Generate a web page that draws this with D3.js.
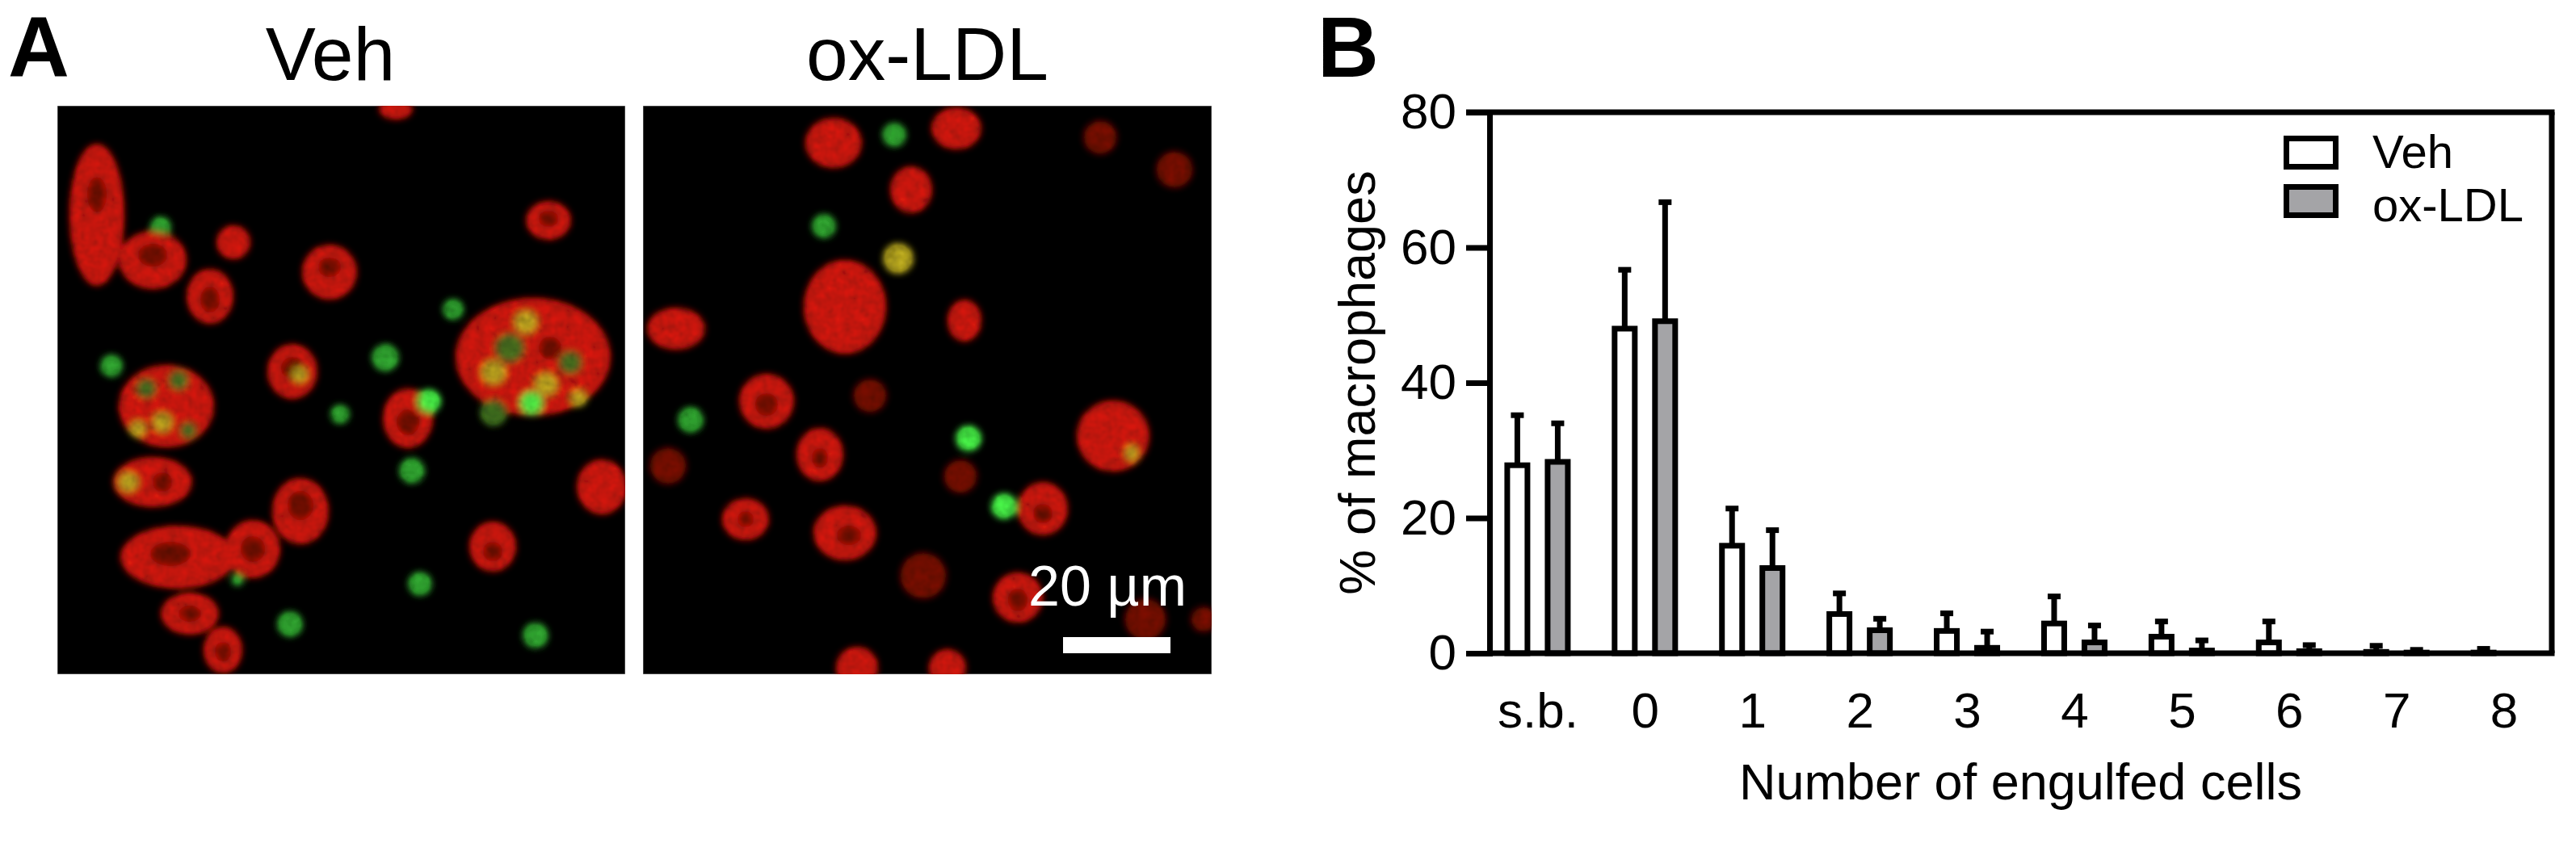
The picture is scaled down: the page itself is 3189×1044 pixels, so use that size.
<!DOCTYPE html>
<html>
<head>
<meta charset="utf-8">
<script src="https://cdn.jsdelivr.net/npm/d3@7"></script>
<style>
  html, body { margin: 0; padding: 0; background: #ffffff; }
  svg { display: block; }
  text { font-family: "Liberation Sans", Arial, Helvetica, sans-serif; }
</style>
</head>
<body>
<svg id="fig" width="3189" height="1044"></svg>
<script>
// ---------------- data ----------------
const categories = ["s.b.", "0", "1", "2", "3", "4", "5", "6", "7", "8"];
const seriesNames = ["Veh", "ox-LDL"];
const vehMean = [27.8, 48.0, 15.9, 5.8, 3.3, 4.4, 2.45, 1.6, 0.2, 0.1];
const vehSD   = [7.4, 8.7, 5.5, 3.05, 2.6, 4.0, 2.25, 3.1, 0.9, 0.55];
const oxMean  = [28.3, 49.1, 12.6, 3.4, 0.8, 1.6, 0.4, 0.3, 0.1, 0.0];
const oxSD    = [5.7, 17.6, 5.6, 1.7, 2.4, 2.5, 1.5, 0.9, 0.4, 0.0];
const yTicks  = [0, 20, 40, 60, 80];
const panelTitles = ["Veh", "ox-LDL"];

// decorative micrograph blobs (panel-relative), [cx, cy, rx, ry, kind]
const cellsVeh = [
  [49,135,33,87,'r'],[128,150,12,12,'g'],[118,191,41,35,'r'],[218,169,20,20,'r'],
  [189,236,28,33,'r'],[337,206,33,33,'r'],[608,142,27,23,'r'],[419,4,20,12,'r'],
  [490,252,12,12,'g'],[589,311,95,72,'r'],[67,322,13,13,'g'],[406,312,16,16,'g'],
  [291,329,30,33,'r'],[135,372,58,50,'r'],[350,382,11,11,'g'],[434,387,30,36,'r'],
  [674,472,30,33,'r'],[118,466,48,30,'r'],[439,452,15,15,'g'],[301,502,34,40,'r'],
  [149,559,70,38,'r'],[242,549,33,35,'r'],[539,546,28,30,'r'],[449,592,14,14,'g'],
  [164,629,35,25,'r'],[205,674,23,28,'r'],[288,642,15,15,'g'],[592,656,15,15,'g'],
  [223,587,7,7,'g'],
  [49,110,12,22,'n'],[118,185,18,14,'n'],[189,240,12,16,'n'],[337,200,14,12,'n'],
  [608,140,12,10,'n'],[291,325,14,14,'n'],[434,392,14,16,'n'],[301,495,16,18,'n'],
  [140,555,25,15,'n'],[242,549,15,16,'n'],[539,552,12,12,'n'],[164,629,14,10,'n'],
  [205,676,10,12,'n'],
  [540,330,15,15,'y'],[560,300,18,18,'d'],[605,345,14,14,'y'],[635,318,14,14,'d'],
  [580,268,14,14,'y'],[645,362,10,10,'y'],[540,380,16,16,'d'],[610,300,14,14,'n'],
  [110,350,12,12,'d'],[150,340,12,12,'d'],[130,392,12,12,'y'],[162,402,10,10,'d'],[100,400,10,10,'y'],
  [88,466,12,12,'y'],[130,466,12,12,'n'],[300,333,10,10,'y'],
  [460,366,14,14,'G'],[587,368,14,14,'G']
];
const cellsOx = [
  [236,46,34,30,'r'],[311,36,14,14,'g'],[388,28,30,25,'r'],[566,39,20,20,'f'],
  [658,79,22,22,'f'],[332,104,25,28,'r'],[224,149,14,14,'g'],[316,189,18,18,'y'],
  [250,249,50,57,'r'],[398,266,20,25,'r'],[41,276,35,25,'r'],[153,366,33,33,'r'],
  [281,359,20,20,'f'],[59,389,15,15,'g'],[582,409,44,43,'r'],[219,432,28,32,'r'],
  [31,446,22,22,'f'],[393,459,20,20,'f'],[495,499,30,32,'r'],[127,512,28,25,'r'],
  [250,529,38,33,'r'],[347,582,28,28,'f'],[464,609,30,30,'r'],[622,636,25,25,'f'],
  [265,696,25,25,'r'],[377,696,22,22,'r'],[694,636,15,15,'f'],
  [153,370,14,14,'n'],[464,612,12,14,'n'],[255,532,15,12,'n'],[127,512,10,10,'n'],
  [495,505,12,12,'n'],[219,436,10,12,'n'],
  [605,430,8,10,'y'],[403,412,15,15,'G'],[447,496,15,15,'G']
];

(function () {
// ---------------- setup ----------------
const svg = d3.select("#fig");
svg.append("rect").attr("width", 3189).attr("height", 1044).attr("fill", "#fff");

const defs = svg.append("defs");
const flt = defs.append("filter").attr("id", "tex")
  .attr("x", "0").attr("y", "0").attr("width", "100%").attr("height", "100%")
  .attr("filterUnits", "userSpaceOnUse");
flt.append("feGaussianBlur").attr("in", "SourceGraphic").attr("stdDeviation", 4).attr("result", "blur");
flt.append("feTurbulence").attr("type", "fractalNoise").attr("baseFrequency", 0.09)
  .attr("numOctaves", 2).attr("seed", 3).attr("result", "noise");
flt.append("feColorMatrix").attr("in", "noise").attr("type", "matrix")
  .attr("values", "0.33 0.33 0.33 0 0  0.33 0.33 0.33 0 0  0.33 0.33 0.33 0 0  0 0 0 0 1")
  .attr("result", "gnoise");
flt.append("feComposite").attr("in", "blur").attr("in2", "gnoise").attr("operator", "arithmetic")
  .attr("k1", 1.3).attr("k2", 0.35).attr("k3", 0).attr("k4", 0);

const cellColor = { r: "#c8140c", f: "#7c0c08", g: "#2ea22e", G: "#44e844", y: "#b0a020", d: "#3c6a1c", n: "#4a0604" };

// ---------------- Panel A ----------------
svg.append("text").attr("x", 10).attr("y", 95)
  .attr("font-size", 105).attr("font-weight", "bold").text("A");

const panels = [
  { x0: 71, y0: 131, w: 703, h: 704, cells: cellsVeh, title: panelTitles[0], tx: 409 },
  { x0: 796, y0: 131, w: 704, h: 704, cells: cellsOx, title: panelTitles[1], tx: 1148 }
];
panels.forEach((p, i) => {
  defs.append("clipPath").attr("id", "clip" + i)
    .append("rect").attr("x", p.x0).attr("y", p.y0).attr("width", p.w).attr("height", p.h);
  svg.append("text").attr("x", p.tx).attr("y", 99).attr("text-anchor", "middle")
    .attr("font-size", 93).text(p.title);
  const g = svg.append("g").attr("clip-path", `url(#clip${i})`);
  g.append("rect").attr("x", p.x0).attr("y", p.y0).attr("width", p.w).attr("height", p.h)
    .attr("fill", "#000").attr("stroke", "#888").attr("stroke-width", 1);
  const cg = g.append("g").attr("filter", "url(#tex)")
    .append("g").attr("transform", `translate(${p.x0},${p.y0})`);
  cg.selectAll("ellipse").data(p.cells).join("ellipse")
    .attr("cx", d => d[0]).attr("cy", d => d[1]).attr("rx", d => d[2]).attr("ry", d => d[3])
    .attr("fill", d => cellColor[d[4]])
    .attr("opacity", d => d[4] === 'f' ? 0.8 : (d[4] === 'n' ? 0.75 : 0.95));
});
// scale bar
svg.append("rect").attr("x", 1316).attr("y", 789).attr("width", 133).attr("height", 20).attr("fill", "#fff");
svg.append("text").attr("x", 1469).attr("y", 750).attr("text-anchor", "end")
  .attr("font-size", 70).attr("fill", "#fff").text("20 µm");

// ---------------- Panel B ----------------
svg.append("text").attr("x", 1631).attr("y", 95)
  .attr("font-size", 105).attr("font-weight", "bold").text("B");

const pLeft = 1844, pRight = 3159, pTop = 139, pBottom = 809;
const SW = 7;
const y = d3.scaleLinear().domain([0, 80]).range([pBottom, pTop]);
const x = d3.scalePoint().domain(categories).range([pLeft, pRight]).padding(0.447);
const xs = d3.scalePoint().domain(seriesNames).range([-25, 25]);
const barW = 25, capW = 16;
const fills = { "Veh": "#ffffff", "ox-LDL": "#a4a4a7" };

const rows = [];
categories.forEach((c, i) => {
  rows.push({ cat: c, s: "Veh", m: vehMean[i], sd: vehSD[i] });
  rows.push({ cat: c, s: "ox-LDL", m: oxMean[i], sd: oxSD[i] });
});

// frame: top and right lines
svg.append("line").attr("x1", 1815).attr("x2", pRight + SW / 2).attr("y1", pTop).attr("y2", pTop)
  .attr("stroke", "#000").attr("stroke-width", SW);
svg.append("line").attr("x1", pRight).attr("x2", pRight).attr("y1", pTop).attr("y2", pBottom)
  .attr("stroke", "#000").attr("stroke-width", SW);

// error bars
const eg = svg.append("g");
rows.filter(d => d.sd > 0).forEach(d => {
  const cx = x(d.cat) + xs(d.s);
  eg.append("line").attr("x1", cx).attr("x2", cx).attr("y1", y(d.m)).attr("y2", y(d.m + d.sd))
    .attr("stroke", "#000").attr("stroke-width", SW);
  eg.append("line").attr("x1", cx - capW / 2).attr("x2", cx + capW / 2)
    .attr("y1", y(d.m + d.sd)).attr("y2", y(d.m + d.sd))
    .attr("stroke", "#000").attr("stroke-width", SW);
});

// bars
svg.append("g").selectAll("rect").data(rows.filter(d => d.m > 0)).join("rect")
  .attr("x", d => x(d.cat) + xs(d.s) - barW / 2)
  .attr("width", barW)
  .attr("y", d => y(d.m))
  .attr("height", d => pBottom - y(d.m))
  .attr("fill", d => fills[d.s])
  .attr("stroke", "#000").attr("stroke-width", SW);

// y axis
const yAxis = svg.append("g").attr("transform", `translate(${pLeft},0)`)
  .call(d3.axisLeft(y).tickValues(yTicks).tickSize(29).tickSizeOuter(0).tickPadding(12));
yAxis.select(".domain").attr("stroke-width", SW).attr("stroke-linecap", "square");
yAxis.selectAll(".tick line").attr("stroke-width", SW);
yAxis.selectAll(".tick text").attr("font-size", 62).attr("fill", "#000")
  .attr("font-family", '"Liberation Sans", Arial, sans-serif');

// x axis
const xAxis = svg.append("g").attr("transform", `translate(0,${pBottom})`)
  .call(d3.axisBottom(x).tickSize(0).tickSizeOuter(0).tickPadding(48));
xAxis.select(".domain").attr("d", `M${pLeft},0H${pRight + SW / 2}`).attr("stroke-width", SW);
xAxis.selectAll(".tick text").attr("font-size", 62).attr("fill", "#000")
  .attr("font-family", '"Liberation Sans", Arial, sans-serif');

// axis titles
svg.append("text").attr("x", (pLeft + pRight) / 2).attr("y", 990).attr("text-anchor", "middle")
  .attr("font-size", 63).text("Number of engulfed cells");
svg.append("text").attr("transform", "translate(1702,474) rotate(-90)").attr("text-anchor", "middle")
  .attr("font-size", 63).text("% of macrophages");

// legend
const lg = svg.append("g");
seriesNames.forEach((s, i) => {
  lg.append("rect").attr("x", 2830.5).attr("y", 171.5 + i * 60).attr("width", 61).attr("height", 35)
    .attr("fill", fills[s]).attr("stroke", "#000").attr("stroke-width", SW);
  lg.append("text").attr("x", 2937).attr("y", 208 + i * 66).attr("font-size", 58).text(s);
});
})();
</script>
</body>
</html>
